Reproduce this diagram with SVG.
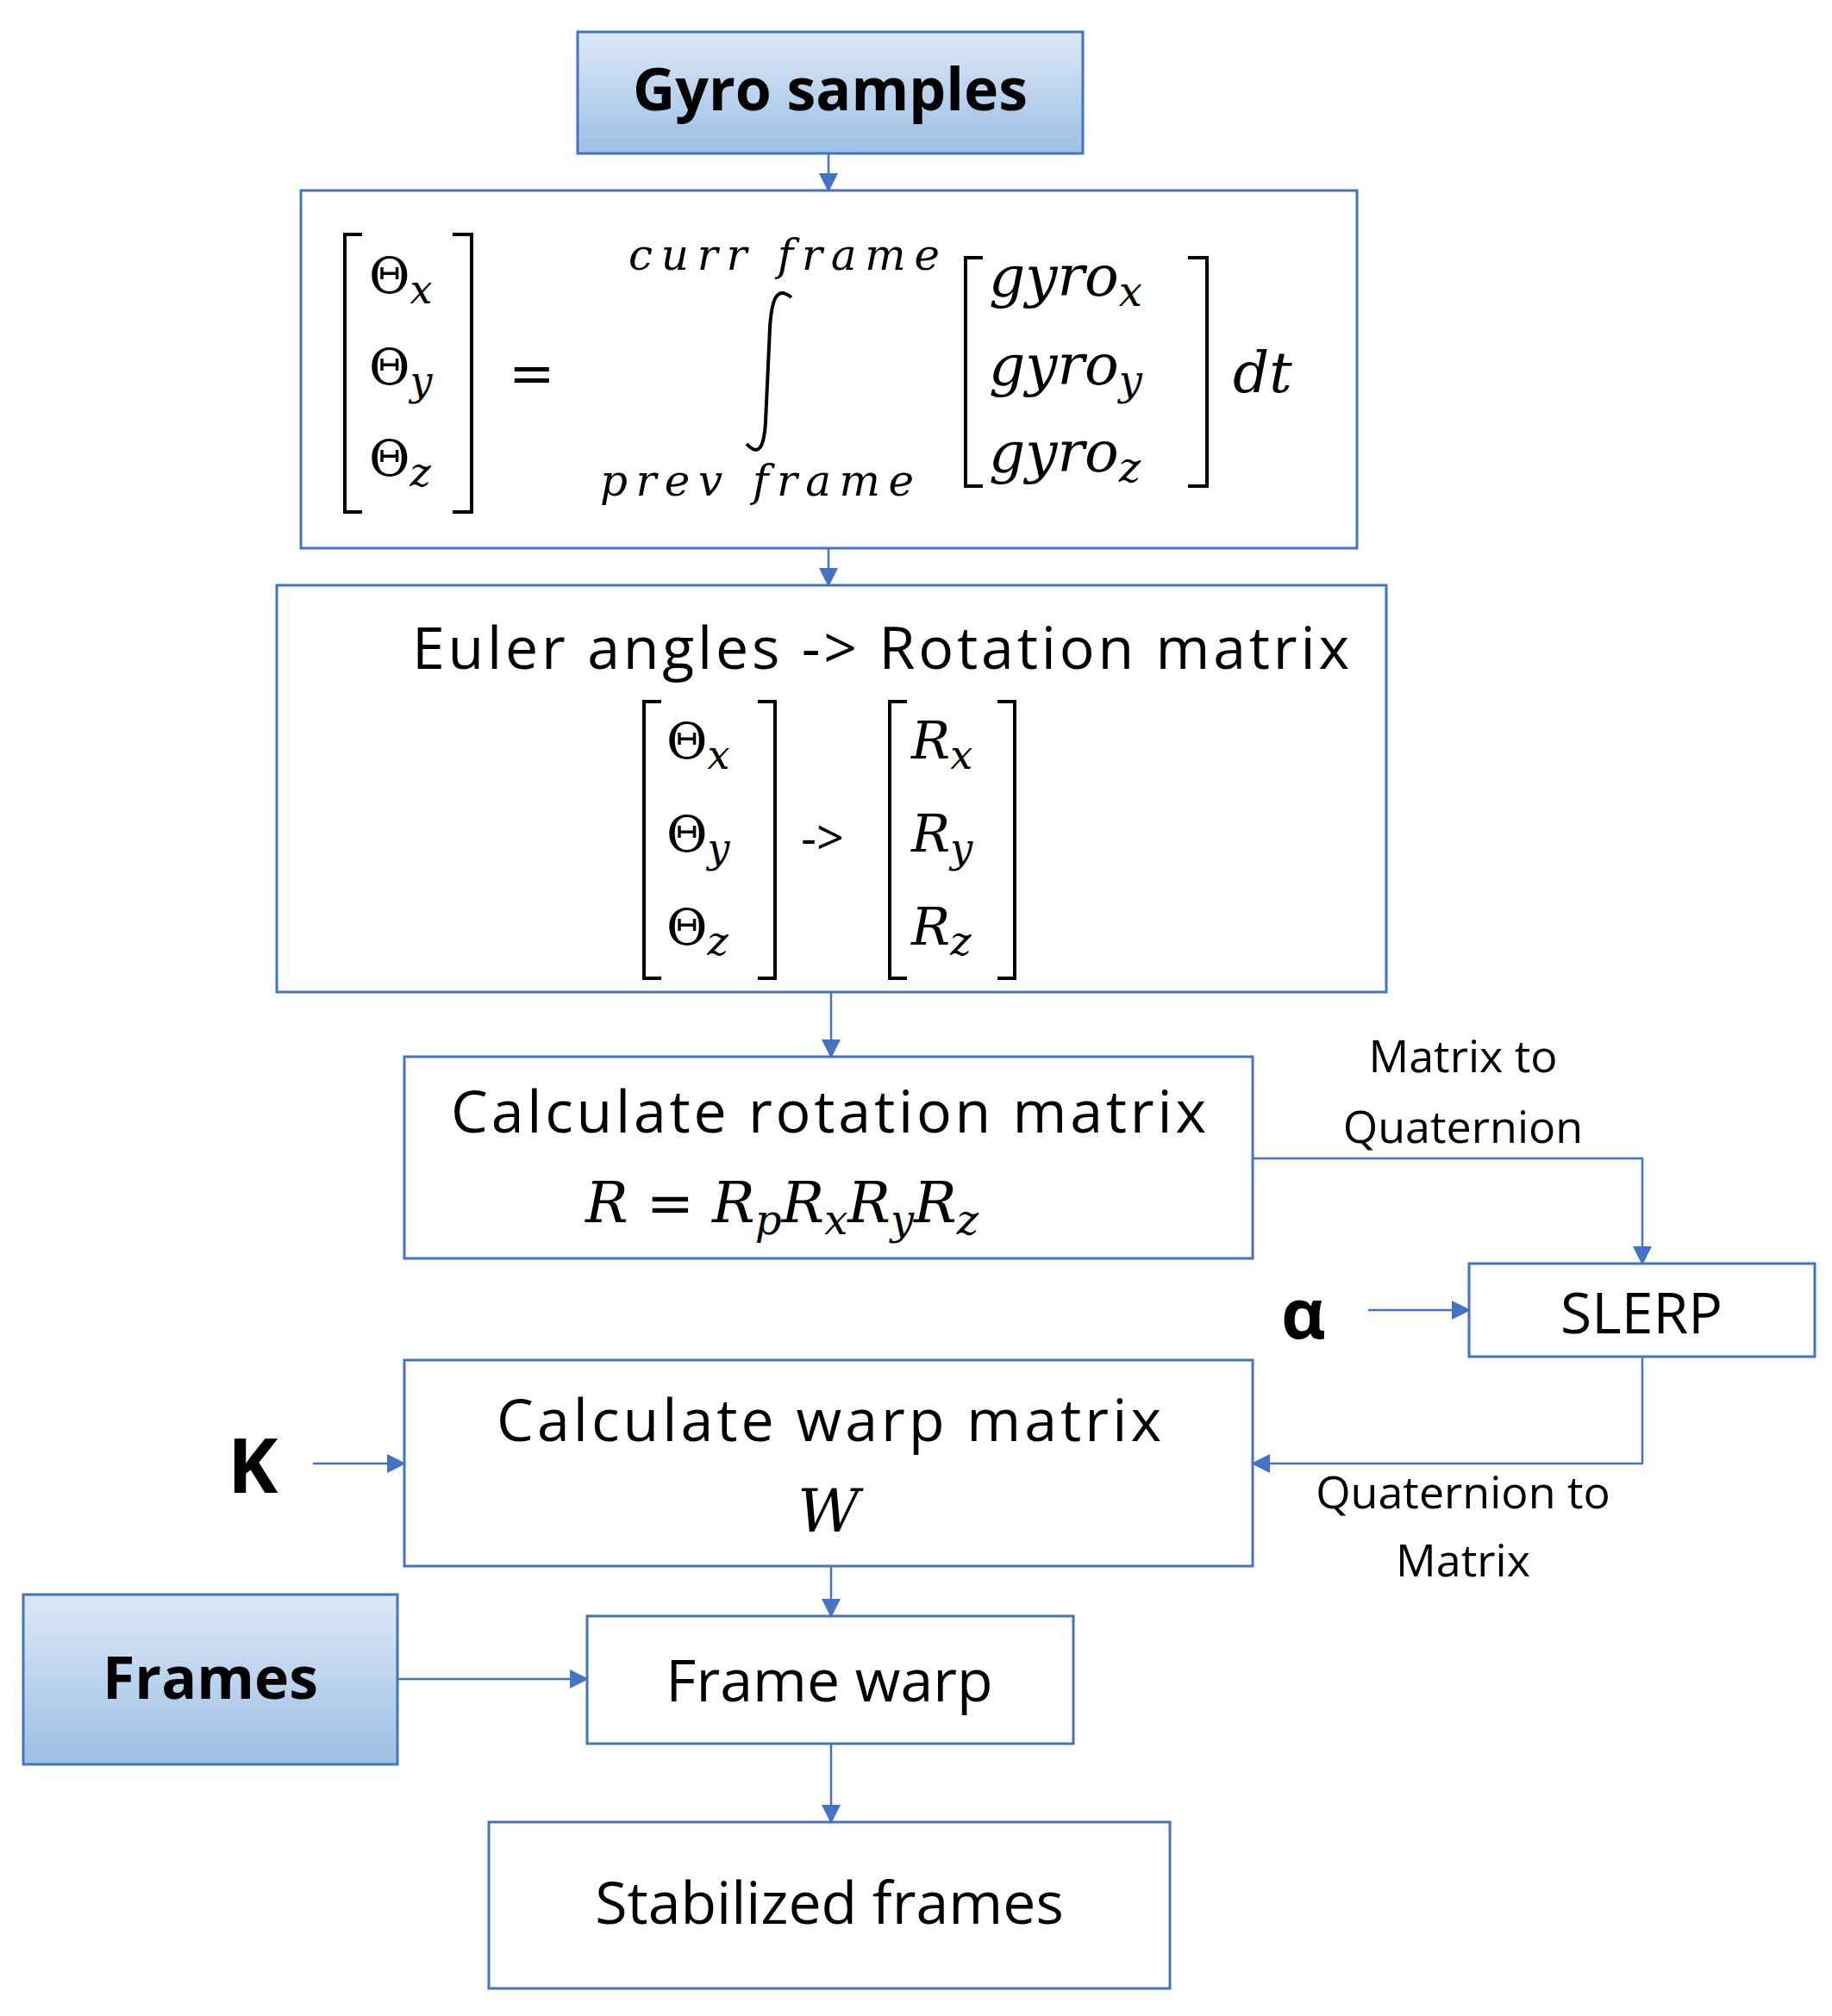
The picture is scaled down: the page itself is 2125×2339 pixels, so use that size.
<svg xmlns="http://www.w3.org/2000/svg" width="2125" height="2339" viewBox="0 0 2125 2339">
<style>
.b{fill:#fff;stroke:#4472C4;stroke-width:3}
.g{fill:url(#gr);stroke:#4472C4;stroke-width:3}
.t{font-family:"Open Sans","Liberation Sans",sans-serif;fill:#000}
.m{font-family:"DejaVu Serif","Liberation Serif",serif;font-style:italic;fill:#000}
.u{font-family:"DejaVu Serif","Liberation Serif",serif;fill:#000}
.br{fill:none;stroke:#000;stroke-width:4}
.c{fill:none;stroke:#4472C4;stroke-width:2.5;marker-end:url(#ar)}
</style>
<defs>
<linearGradient id="gr" x1="0" y1="0" x2="0" y2="1"><stop offset="0" stop-color="#dde8f6"/><stop offset="1" stop-color="#9bbfe5"/></linearGradient>
<marker id="ar" markerWidth="10" markerHeight="10" refX="9" refY="5" orient="auto" markerUnits="userSpaceOnUse" viewBox="0 0 10 10"><path d="M0,0L10,5L0,10z" fill="#4472C4"/></marker>
<marker id="ar2" markerWidth="22" markerHeight="22" refX="20" refY="11" orient="auto" markerUnits="userSpaceOnUse" viewBox="0 0 22 22"><path d="M0,0L22,11L0,22z" fill="#4472C4"/></marker>
</defs>
<g id="gyro"><rect class="g" x="670" y="37" width="586" height="141"/><text class="t" x="963" y="128" font-size="68" font-weight="bold" text-anchor="middle">Gyro samples</text></g>
<g id="integral"><rect class="b" x="349" y="221" width="1225" height="415"/>
<path class="br" d="M420,272H400V594H420M525,272H547V594H525"/>
<text class="u" x="428" y="340" font-size="58">Θ<tspan class="m" font-size="46" dy="12">x</tspan></text>
<text class="u" x="428" y="446" font-size="58">Θ<tspan class="m" font-size="46" dy="12">y</tspan></text>
<text class="u" x="428" y="552" font-size="58">Θ<tspan class="m" font-size="46" dy="12">z</tspan></text>
<text class="u" x="590" y="455" font-size="64">=</text>
<text class="m" x="729" y="313" font-size="50" textLength="361">curr frame</text>
<text class="m" x="696" y="575" font-size="50" textLength="364">prev frame</text>
<path d="M918,345C900,330 895,350 893,380L888,490C886,520 880,530 866,515" fill="none" stroke="#000" stroke-width="4"/>
<path class="br" d="M1140,299H1120V564H1140M1378,299H1400V564H1378"/>
<text class="m" x="1147" y="343" font-size="66">gyro<tspan font-size="48" dy="12">x</tspan></text>
<text class="m" x="1147" y="446" font-size="66">gyro<tspan font-size="48" dy="12">y</tspan></text>
<text class="m" x="1147" y="547" font-size="66">gyro<tspan font-size="48" dy="12">z</tspan></text>
<text class="m" x="1430" y="455" font-size="66">dt</text></g>
<g id="euler"><rect class="b" x="321" y="679" width="1287" height="472"/>
<text class="t" x="478" y="776" font-size="68" textLength="1087">Euler angles -&gt; Rotation matrix</text>
<path class="br" d="M767,814H747V1135H767M879,814H899V1135H879"/>
<text class="u" x="773" y="880" font-size="58">Θ<tspan class="m" font-size="46" dy="12">x</tspan></text>
<text class="u" x="773" y="988" font-size="58">Θ<tspan class="m" font-size="46" dy="12">y</tspan></text>
<text class="u" x="773" y="1096" font-size="58">Θ<tspan class="m" font-size="46" dy="12">z</tspan></text>
<text class="t" x="929" y="992" font-size="56">-&gt;</text>
<path class="br" d="M1052,814H1032V1135H1052M1157,814H1177V1135H1157"/>
<text class="m" x="1057" y="880" font-size="60">R<tspan font-size="46" dy="12">x</tspan></text>
<text class="m" x="1057" y="988" font-size="60">R<tspan font-size="46" dy="12">y</tspan></text>
<text class="m" x="1057" y="1096" font-size="60">R<tspan font-size="46" dy="12">z</tspan></text></g>
<g id="rot"><rect class="b" x="469" y="1226" width="984" height="234"/>
<text class="t" x="523" y="1314" font-size="68" textLength="876">Calculate rotation matrix</text>
<text class="m" x="679" y="1418" font-size="66">R <tspan font-style="normal">=</tspan> R<tspan font-size="48" dy="14">p</tspan><tspan dy="-14">R</tspan><tspan font-size="48" dy="14">x</tspan><tspan dy="-14">R</tspan><tspan font-size="48" dy="14">y</tspan><tspan dy="-14">R</tspan><tspan font-size="48" dy="14">z</tspan></text></g>
<g id="slerp"><rect class="b" x="1704" y="1466" width="401" height="108"/><text class="t" x="1904" y="1547" font-size="66" text-anchor="middle">SLERP</text></g>
<g id="alpha"><text class="t" x="1486" y="1553" font-size="80" font-weight="bold">α</text></g>
<g id="warp"><rect class="b" x="469" y="1578" width="984" height="239"/>
<text class="t" x="576" y="1672" font-size="68" textLength="771">Calculate warp matrix</text>
<text class="m" x="961" y="1777" font-size="70" text-anchor="middle">W</text></g>
<g id="k"><text class="t" x="264" y="1732" font-size="88" font-weight="bold">K</text></g>
<g id="frames"><rect class="g" x="27" y="1850" width="434" height="197"/><text class="t" x="244" y="1971" font-size="68" font-weight="bold" text-anchor="middle">Frames</text></g>
<g id="fwarp"><rect class="b" x="681" y="1875" width="564" height="148"/><text class="t" x="962" y="1974" font-size="68" text-anchor="middle">Frame warp</text></g>
<g id="stab"><rect class="b" x="567" y="2114" width="790" height="193"/><text class="t" x="962" y="2232" font-size="68" text-anchor="middle">Stabilized frames</text></g>
<g id="labels" class="t" font-size="52" text-anchor="middle">
<text x="1697" y="1244">Matrix to</text><text x="1697" y="1326">Quaternion</text>
<text x="1697" y="1750">Quaternion to</text><text x="1697" y="1829">Matrix</text></g>
<g id="connectors" fill="none" stroke="#4472C4" stroke-width="2.5">
<path d="M961,178V221" marker-end="url(#ar2)"/>
<path d="M961,636V679" marker-end="url(#ar2)"/>
<path d="M964,1151V1226" marker-end="url(#ar2)"/>
<path d="M1453,1344H1905V1466" marker-end="url(#ar2)"/>
<path d="M1587,1520H1704" marker-end="url(#ar2)"/>
<path d="M1905,1574V1698H1453" marker-end="url(#ar2)"/>
<path d="M363,1698H469" marker-end="url(#ar2)"/>
<path d="M964,1817V1875" marker-end="url(#ar2)"/>
<path d="M461,1948H681" marker-end="url(#ar2)"/>
<path d="M964,2023V2114" marker-end="url(#ar2)"/>
</g>
</svg>
